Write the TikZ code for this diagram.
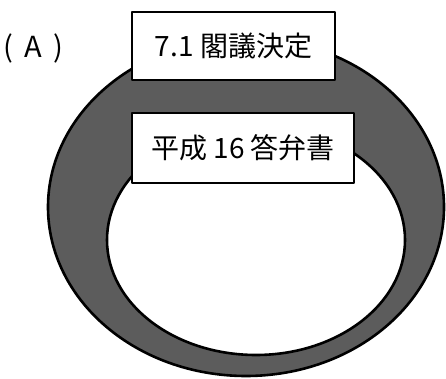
\documentclass[tikz,border=0pt]{standalone}
\usepackage{fontspec}
\setmainfont{Noto Sans CJK JP}
\begin{document}
\begin{tikzpicture}[x=1pt, y=1pt, line join=round, line cap=round,
  label box/.style={draw=black, line width=1.5pt, fill=white, inner sep=0pt, font=\fontsize{28}{32}\selectfont}]
			\useasboundingbox (0,0) rectangle (446,379);
			% ring
			\def\ringfill{black!64}
			\fill[\ringfill, even odd rule] (246,172) ellipse [x radius=198, y radius=169] (256,139) ellipse [x radius=149, y radius=115];
			\draw[line width=2.6pt] (246,172) ellipse [x radius=198, y radius=169];
			\draw[line width=2.6pt] (256,139) ellipse [x radius=149, y radius=115];
			% labels
			\node[font=\fontsize{29}{32}\selectfont, inner sep=0pt, anchor=west] (tag) at (3,331) {(\hspace{0.4em}A\hspace{0.4em})};
			\node[label box, minimum width=203, minimum height=68] (cabinet) at (233.5,333) {7.1 閣議決定};
			\node[label box, minimum width=222, minimum height=70] (answer) at (243,231) {平成 16 答弁書};
		\end{tikzpicture}
\end{document}
